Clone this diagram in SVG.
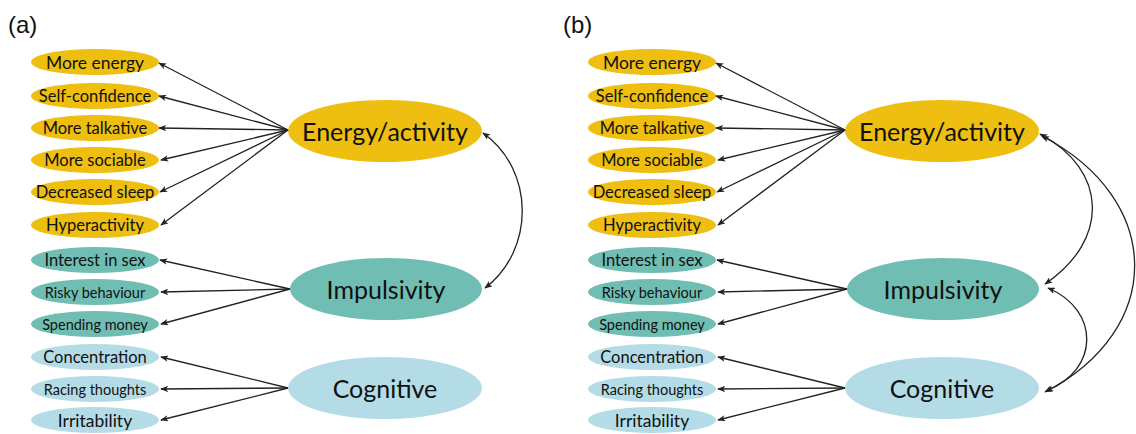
<svg xmlns="http://www.w3.org/2000/svg" width="1136" height="434" viewBox="0 0 1136 434">
<style>
.y{fill:#EEBE10}.t{fill:#70BEB3}.b{fill:#B4DCE6}
.s{font-family:Lato,"Open Sans",sans-serif;font-size:16.5px;fill:#111;text-anchor:middle;dominant-baseline:central}
.sm{font-size:14.5px}
.lg{font-size:17.5px}
.L{font-family:Lato,"Open Sans",sans-serif;font-size:25px;fill:#111;text-anchor:middle;dominant-baseline:central}
.p{font-family:"Liberation Sans",Arial,sans-serif;font-size:24px;fill:#111}
.c{fill:none;stroke:#222;stroke-width:1.3;marker-end:url(#ah)}
.d{fill:none;stroke:#222;stroke-width:1.3;marker-start:url(#ahs);marker-end:url(#ah)}
</style>
<defs>
<marker id="ah" viewBox="0 0 10 8" refX="9" refY="4" markerWidth="8" markerHeight="6.4" orient="auto" markerUnits="userSpaceOnUse"><path d="M0,0 L10,4 L0,8 L2.5,4 z" fill="#222"/></marker>
<marker id="ahs" viewBox="0 0 10 8" refX="9" refY="4" markerWidth="8" markerHeight="6.4" orient="auto-start-reverse" markerUnits="userSpaceOnUse"><path d="M0,0 L10,4 L0,8 L2.5,4 z" fill="#222"/></marker>
</defs>
<rect width="1136" height="434" fill="#fff"/>
<text class="p" x="8" y="33">(a)</text>
<text class="p" x="563" y="33">(b)</text>

<g id="panel-a">
<g id="a-more-energy"><ellipse class="y" cx="95" cy="62" rx="64" ry="13"/><text class="s lg" x="95" y="62">More energy</text></g>
<g id="a-self-confidence"><ellipse class="y" cx="95" cy="96" rx="64" ry="13"/><text class="s" x="95" y="96">Self-confidence</text></g>
<g id="a-more-talkative"><ellipse class="y" cx="95" cy="128" rx="64" ry="13"/><text class="s" x="95" y="128">More talkative</text></g>
<g id="a-more-sociable"><ellipse class="y" cx="95" cy="160" rx="64" ry="13"/><text class="s" x="95" y="160">More sociable</text></g>
<g id="a-decreased-sleep"><ellipse class="y" cx="95" cy="192" rx="64" ry="13"/><text class="s" x="95" y="192">Decreased sleep</text></g>
<g id="a-hyperactivity"><ellipse class="y" cx="95" cy="225" rx="64" ry="13"/><text class="s" x="95" y="225">Hyperactivity</text></g>
<g id="a-interest-in-sex"><ellipse class="t" cx="95" cy="260" rx="64" ry="13"/><text class="s" x="95" y="260">Interest in sex</text></g>
<g id="a-risky-behaviour"><ellipse class="t" cx="95" cy="292" rx="64" ry="13"/><text class="s sm" x="95" y="292">Risky behaviour</text></g>
<g id="a-spending-money"><ellipse class="t" cx="95" cy="324" rx="64" ry="13"/><text class="s sm" x="95" y="324">Spending money</text></g>
<g id="a-concentration"><ellipse class="b" cx="95" cy="357" rx="64" ry="13"/><text class="s" x="95" y="357">Concentration</text></g>
<g id="a-racing-thoughts"><ellipse class="b" cx="95" cy="389" rx="64" ry="13"/><text class="s sm" x="95" y="389">Racing thoughts</text></g>
<g id="a-irritability"><ellipse class="b" cx="95" cy="420" rx="64" ry="13"/><text class="s lg" x="95" y="420">Irritability</text></g>
<g id="a-energy-activity"><ellipse class="y" cx="385" cy="131" rx="97" ry="31"/><text class="L" x="385" y="131">Energy/activity</text></g>
<g id="a-impulsivity"><ellipse class="t" cx="386" cy="289" rx="96" ry="31"/><text class="L" x="386" y="289">Impulsivity</text></g>
<g id="a-cognitive"><ellipse class="b" cx="385" cy="388" rx="97" ry="31"/><text class="L" x="385" y="388">Cognitive</text></g>
</g>

<g id="panel-b" transform="translate(557,0)">
<g id="b-more-energy"><ellipse class="y" cx="95" cy="62" rx="64" ry="13"/><text class="s lg" x="95" y="62">More energy</text></g>
<g id="b-self-confidence"><ellipse class="y" cx="95" cy="96" rx="64" ry="13"/><text class="s" x="95" y="96">Self-confidence</text></g>
<g id="b-more-talkative"><ellipse class="y" cx="95" cy="128" rx="64" ry="13"/><text class="s" x="95" y="128">More talkative</text></g>
<g id="b-more-sociable"><ellipse class="y" cx="95" cy="160" rx="64" ry="13"/><text class="s" x="95" y="160">More sociable</text></g>
<g id="b-decreased-sleep"><ellipse class="y" cx="95" cy="192" rx="64" ry="13"/><text class="s" x="95" y="192">Decreased sleep</text></g>
<g id="b-hyperactivity"><ellipse class="y" cx="95" cy="225" rx="64" ry="13"/><text class="s" x="95" y="225">Hyperactivity</text></g>
<g id="b-interest-in-sex"><ellipse class="t" cx="95" cy="260" rx="64" ry="13"/><text class="s" x="95" y="260">Interest in sex</text></g>
<g id="b-risky-behaviour"><ellipse class="t" cx="95" cy="292" rx="64" ry="13"/><text class="s sm" x="95" y="292">Risky behaviour</text></g>
<g id="b-spending-money"><ellipse class="t" cx="95" cy="324" rx="64" ry="13"/><text class="s sm" x="95" y="324">Spending money</text></g>
<g id="b-concentration"><ellipse class="b" cx="95" cy="357" rx="64" ry="13"/><text class="s" x="95" y="357">Concentration</text></g>
<g id="b-racing-thoughts"><ellipse class="b" cx="95" cy="389" rx="64" ry="13"/><text class="s sm" x="95" y="389">Racing thoughts</text></g>
<g id="b-irritability"><ellipse class="b" cx="95" cy="420" rx="64" ry="13"/><text class="s lg" x="95" y="420">Irritability</text></g>
<g id="b-energy-activity"><ellipse class="y" cx="385" cy="131" rx="97" ry="31"/><text class="L" x="385" y="131">Energy/activity</text></g>
<g id="b-impulsivity"><ellipse class="t" cx="386" cy="289" rx="96" ry="31"/><text class="L" x="386" y="289">Impulsivity</text></g>
<g id="b-cognitive"><ellipse class="b" cx="385" cy="388" rx="97" ry="31"/><text class="L" x="385" y="388">Cognitive</text></g>
</g>

<g id="connectors">
<g id="a-links">
<path class="c" d="M288,130 L159,63"/>
<path class="c" d="M288,130 L159,96"/>
<path class="c" d="M288,130 L159,128"/>
<path class="c" d="M288,130 L161,160"/>
<path class="c" d="M288,130 L160,192"/>
<path class="c" d="M288,130 L161,225"/>
<path class="c" d="M290,289 L160,260"/>
<path class="c" d="M290,289 L161,292"/>
<path class="c" d="M290,289 L161,324"/>
<path class="c" d="M288,388 L161,357"/>
<path class="c" d="M288,388 L161,389"/>
<path class="c" d="M288,388 L161,420"/>
<path class="d" d="M483,133 C535,170 535,250 485,288"/>
</g>
<g id="b-links">
<path class="c" d="M845,130 L716,63"/>
<path class="c" d="M845,130 L716,96"/>
<path class="c" d="M845,130 L716,128"/>
<path class="c" d="M845,130 L718,160"/>
<path class="c" d="M845,130 L717,192"/>
<path class="c" d="M845,130 L718,225"/>
<path class="c" d="M847,289 L717,260"/>
<path class="c" d="M847,289 L718,292"/>
<path class="c" d="M847,289 L718,324"/>
<path class="c" d="M845,388 L718,357"/>
<path class="c" d="M845,388 L718,389"/>
<path class="c" d="M845,388 L718,420"/>
<path class="d" d="M1040,134 C1108,170 1110,240 1045,284"/>
<path class="d" d="M1042,136 C1165,200 1165,330 1045,392"/>
<path class="d" d="M1048,288 C1100,310 1100,370 1046,391"/>
</g>
</g>
</svg>
